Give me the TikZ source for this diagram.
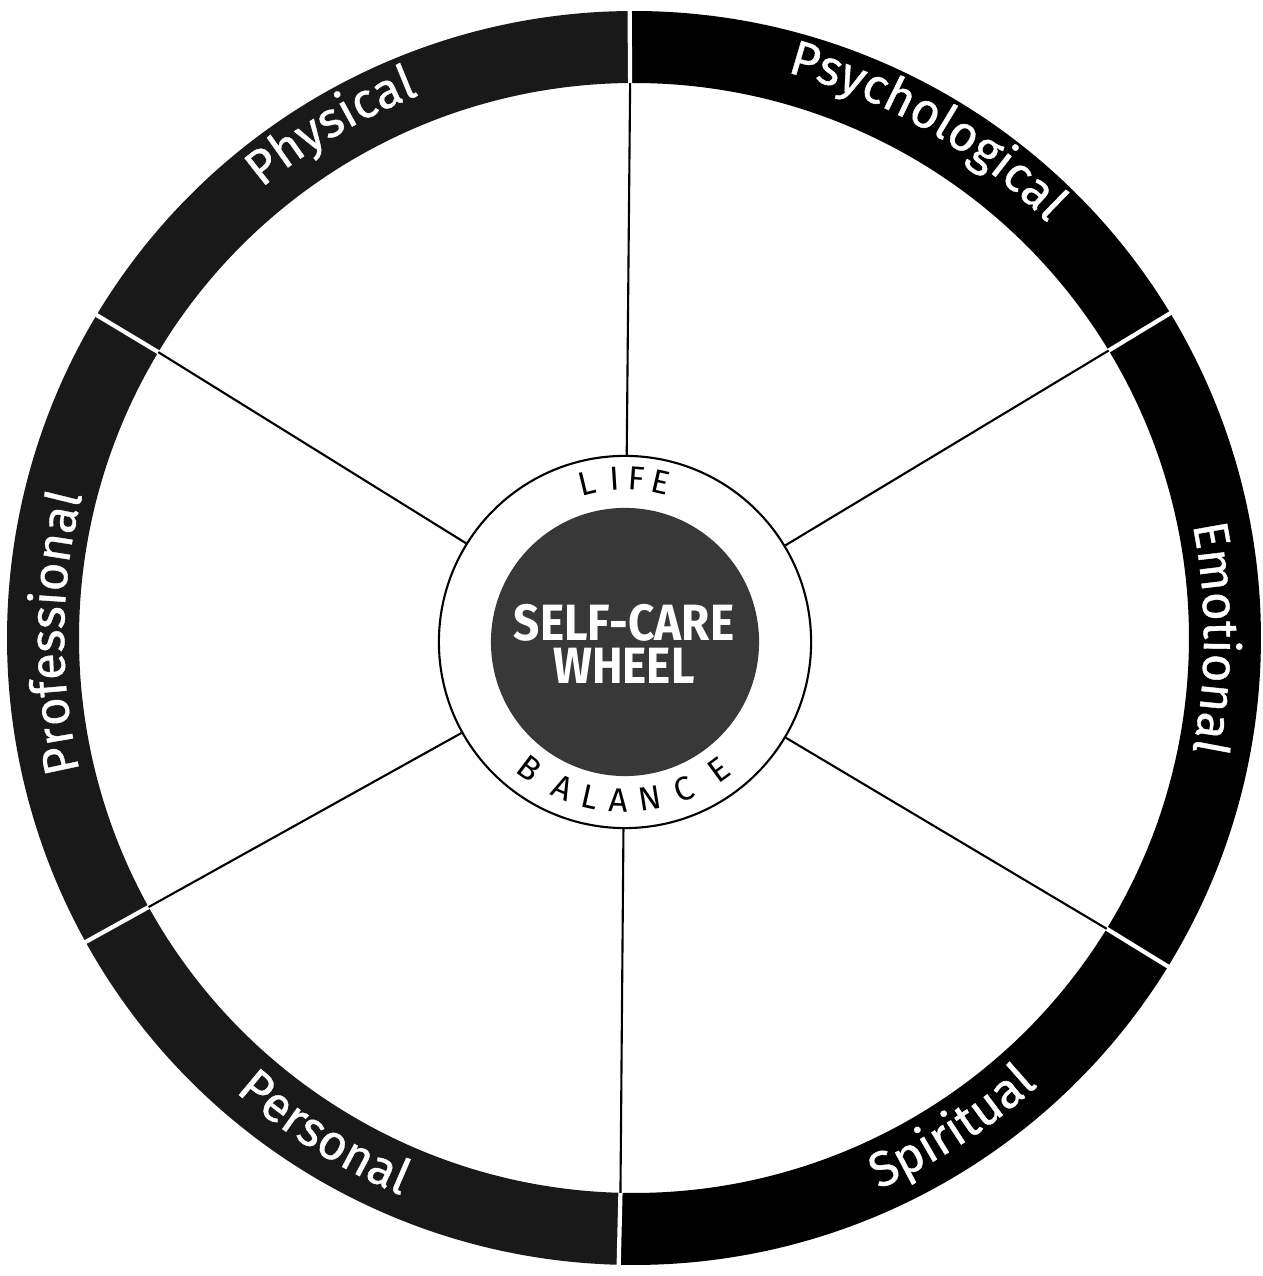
\documentclass[tikz,border=0pt]{standalone}
\usepackage{fontspec}
\usepackage{graphicx}
\setmainfont{Fira Sans}
\newfontfamily\ringfont[FakeBold=0.8]{Fira Sans}
\usetikzlibrary{decorations.text}
\newcommand\lblfont{\ringfont\fontsize{14}{14}\selectfont}
\newcommand\smallfont{\fontsize{9.5}{9.5}\selectfont}
\newcommand\ringsector[3]{\fill[#3] (#1:627) arc[start angle=#1,end angle=#2,radius=627] -- (#2:555) arc[start angle=#2,end angle=#1,radius=555] -- cycle;}
\begin{document}
\begin{tikzpicture}[x=0.01cm,y=0.01cm,
  seplin/.style={white,line width=1.2pt},
  spoke/.style={black,line width=0.6pt},
  ringlabel/.style={decorate,decoration={text along path,text align=center,text color=white}},
  halftone/.style={fill=black!90},
  solidseg/.style={fill=black},
  letterlbl/.style={font=\smallfont,inner sep=0pt,anchor=base}
]
\useasboundingbox (0,0) rectangle (1262,1276);
\fill[white] (0,0) rectangle (1262,1276);
\begin{scope}[shift={(634,638)}]
  % ring sectors
  \ringsector{31.2}{90.4}{solidseg}
  \ringsector{90.4}{149}{halftone}
  \ringsector{149}{209}{halftone}
  \ringsector{209}{268.6}{halftone}
  \ringsector{268.6}{328.4}{solidseg}
  \ringsector{328.4}{391.2}{solidseg}
  % white separators in the ring
  \foreach \a in {31.2,90.4,149,209,268.6,328.4}
    \draw[seplin] (\a:552) -- (\a:631);
  % ring coordinates for spokes
  \coordinate (s1) at (31.2:555);
  \coordinate (s2) at (90.4:555);
  \coordinate (s3) at (149:555);
  \coordinate (s4) at (209:555);
  \coordinate (s5) at (268.6:555);
  \coordinate (s6) at (328.4:555);
  % labels on the ring
  \path[ringlabel,decoration={text={|\lblfont|Physical}}] (150.6:584) arc[start angle=150.6,end angle=90.6,radius=584];
  \path[ringlabel,decoration={text={|\lblfont|Psychological}}] (90:586) arc[start angle=90,end angle=30,radius=586];
  \path[ringlabel,decoration={text={|\lblfont|Emotional}}] (30:570) arc[start angle=30,end angle=-30,radius=570];
  \path[ringlabel,decoration={text={|\lblfont|Spiritual}}] (-87:603) arc[start angle=-87,end angle=-27,radius=603];
  \path[ringlabel,decoration={text={|\lblfont|Personal}}] (208:604) arc[start angle=208,end angle=268,radius=604];
  \path[ringlabel,decoration={text={|\lblfont|Professional}}] (209.5:570) arc[start angle=209.5,end angle=149.5,radius=570];
  % hub
  \node[circle,draw,line width=0.6pt,fill=white,minimum size=3.72cm,inner sep=0pt] (hub) at (-9,-4) {};
  \foreach \k in {1,...,6}
    \draw[spoke] (hub) -- (s\k);
  \node[circle,fill=black!78,minimum size=2.68cm,inner sep=0pt] (core) at (hub.center) {};
  \node[text=white,align=center,font=\fontsize{14.5}{12.2}\selectfont\bfseries,inner sep=0pt] (title) at (-10,-6)
    {\scalebox{0.9}[1]{SELF-CARE}\\\scalebox{0.9}[1]{WHEEL}};
  \foreach \ch/\ang [count=\i] in {L/103.5,I/93.5,F/85.8,E/77.2}
    \node[letterlbl,rotate=\ang-90] (life\i) at ([shift={(\ang:152)}]hub.center) {\ch};
  \foreach \ch/\ang [count=\i] in {B/233,A/246.8,L/257.4,A/267.5,N/279,C/291.8,E/306.2}
    \node[letterlbl,rotate=\ang+90] (bal\i) at ([shift={(\ang:170)}]hub.center) {\ch};
\end{scope}
\end{tikzpicture}
\end{document}
